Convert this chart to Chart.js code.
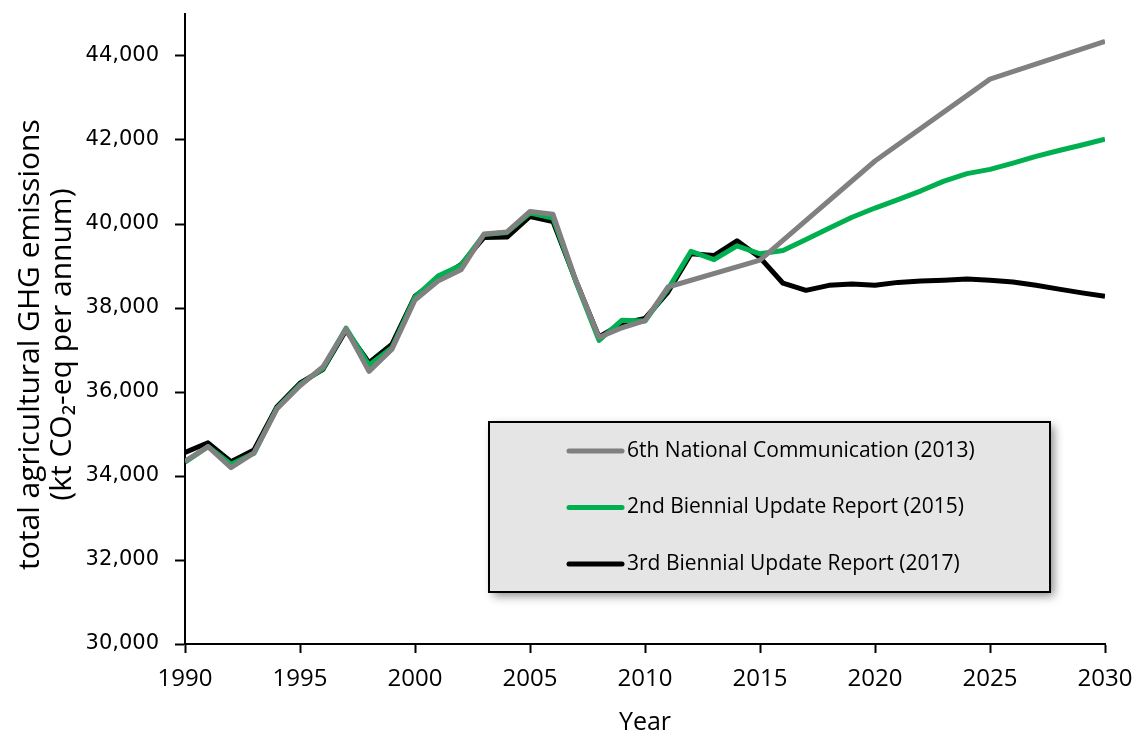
<!DOCTYPE html>
<html>
<head>
<meta charset="utf-8">
<script src="https://cdn.jsdelivr.net/npm/chart.js@4"></script>
<style>
  html, body { margin: 0; padding: 0; background: #fff; }
  #wrap { width: 1136px; height: 732px; position: relative; }
</style>
</head>
<body>
<div id="wrap"><canvas id="c"></canvas></div>
<script>
const years = [1990,1991,1992,1993,1994,1995,1996,1997,1998,1999,
  2000,2001,2002,2003,2004,2005,2006,2007,2008,2009,
  2010,2011,2012,2013,2014,2015,2016,2017,2018,2019,
  2020,2021,2022,2023,2024,2025,2026,2027,2028,2029,2030];

const nc6_2013 = [34350,34700,34200,34550,35600,36150,36600,37500,36490,37020,
  38190,38640,38910,39760,39810,40300,40230,38650,37300,37530,
  37700,38500,null,null,null,39140,null,null,null,null,
  41500,null,null,null,null,43450,null,null,null,null,44350];

const bur2_2015 = [34330,34700,34280,34540,35620,36180,36560,37520,36640,37060,
  38260,38760,39020,39750,39800,40260,40140,38620,37230,37710,
  37690,38450,39350,39150,39480,39290,39370,39630,39900,40160,
  40380,40580,40790,41020,41200,41300,41450,41610,41750,41880,42020];

const bur3_2017 = [34560,34790,34340,34620,35650,36210,36540,37470,36700,37140,
  38280,38690,39030,39680,39690,40180,40060,38640,37310,37630,
  37750,38380,39290,39250,39600,39200,38590,38420,38540,38570,
  38540,38610,38640,38660,38690,38660,38620,38540,38450,38360,38280];

const seriesLabels = ['6th National Communication (2013)','2nd Biennial Update Report (2015)','3rd Biennial Update Report (2017)'];
const seriesColors = ['#808080','#00b050','#000000'];
const yTickValues = [30000,32000,34000,36000,38000,40000,42000,44000];

const FONT = "'Open Sans', 'Noto Sans', sans-serif";

function toPoints(arr) { return years.map((yr, i) => ({x: yr, y: arr[i]})); }

const legendBox = {
  id: 'legendBox',
  afterDatasetsDraw(chart) {
    const ctx = chart.ctx;
    const bx = 489, by = 422, bw = 561, bh = 170;
    ctx.save();
    ctx.shadowColor = 'rgba(0,0,0,0.45)';
    ctx.shadowBlur = 9;
    ctx.shadowOffsetX = 4;
    ctx.shadowOffsetY = 4;
    ctx.fillStyle = '#e5e5e5';
    ctx.fillRect(bx, by, bw, bh);
    ctx.shadowColor = 'transparent';
    ctx.lineWidth = 2;
    ctx.strokeStyle = '#000';
    ctx.strokeRect(bx, by, bw, bh);
    ctx.font = "21px " + FONT;
    ctx.textBaseline = 'middle';
    ctx.textAlign = 'left';
    chart.data.datasets.forEach((ds, i) => {
      const yy = 451 + i * 56.5;
      ctx.beginPath();
      ctx.lineCap = 'round';
      ctx.lineWidth = 5;
      ctx.strokeStyle = ds.borderColor;
      ctx.moveTo(569, yy);
      ctx.lineTo(622, yy);
      ctx.stroke();
      ctx.fillStyle = '#000';
      ctx.fillText(ds.label, 627, yy);
    });
    ctx.restore();
  }
};

const datasets = [nc6_2013, bur2_2015, bur3_2017].map((arr, i) => ({
  label: seriesLabels[i],
  data: toPoints(arr),
  borderColor: seriesColors[i],
  backgroundColor: seriesColors[i],
  borderWidth: 5,
  pointRadius: 0,
  pointHoverRadius: 0,
  tension: 0,
  spanGaps: true,
  borderJoinStyle: 'round',
  fill: false
}));

new Chart(document.getElementById('c'), {
  type: 'line',
  data: { datasets },
  options: {
    responsive: true,
    maintainAspectRatio: false,
    animation: false,
    layout: { padding: { top: 14, right: 31, left: 0, bottom: 0 } },
    plugins: {
      legend: { display: false },
      tooltip: { enabled: false }
    },
    scales: {
      x: {
        type: 'linear',
        min: 1990, max: 2030,
        afterFit(scale) {
          scale.height = 88;
          scale.paddingLeft = 0; scale.paddingRight = 0;
        },
        ticks: {
          stepSize: 5,
          color: '#000',
          font: { family: FONT, size: 24 },
          padding: 12,
          maxRotation: 0,
          callback: v => String(v)
        },
        grid: { display: true, drawOnChartArea: false, drawTicks: true, tickLength: 9, tickWidth: 2, tickColor: '#000' },
        border: { display: true, color: '#000', width: 2 },
        title: {
          display: true,
          text: 'Year',
          color: '#000',
          font: { family: FONT, size: 25, lineHeight: 0.72 },
          padding: { top: 0, bottom: 0 }
        }
      },
      y: {
        type: 'linear',
        min: 30000, max: 45000,
        afterFit(scale) {
          scale.width = 185;
          scale.paddingTop = 0; scale.paddingBottom = 0;
        },
        afterBuildTicks(scale) { scale.ticks = yTickValues.map(v => ({ value: v })); },
        ticks: {
          color: '#000',
          font: { family: "'DejaVu Sans', sans-serif", size: 21 },
          padding: 16,
          callback: v => v.toLocaleString('en-US')
        },
        grid: { display: true, drawOnChartArea: false, drawTicks: true, tickLength: 10, tickWidth: 2, tickColor: '#000' },
        border: { display: true, color: '#000', width: 2 },
        title: {
          display: true,
          text: ['total agricultural GHG emissions\u00A0\u00A0\u00A0\u00A0', '(kt CO\u2082-eq per annum)\u00A0\u00A0\u00A0\u00A0'],
          color: '#000',
          font: { family: FONT, size: 30, lineHeight: 1.07 },
          padding: { top: 14, bottom: 0 }
        }
      }
    }
  },
  plugins: [legendBox]
});
</script>
</body>
</html>
